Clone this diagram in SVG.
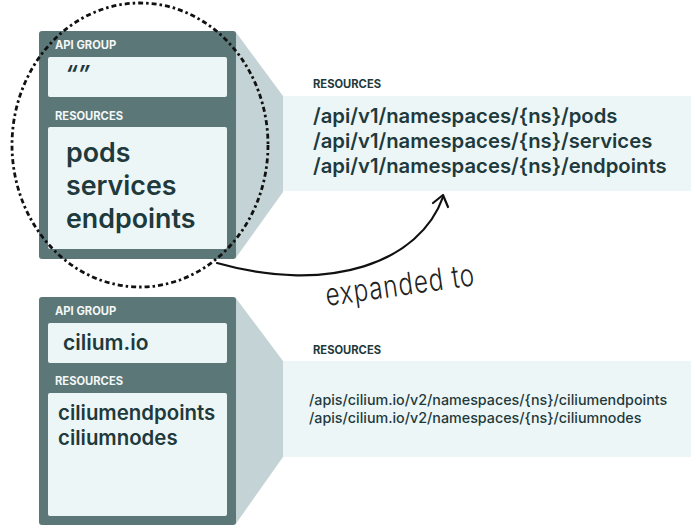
<svg xmlns="http://www.w3.org/2000/svg" width="699" height="529" viewBox="0 0 699 529">
<defs>
<style>
.panel{fill:#5b7778}
.inner{fill:#edf6f7}
.trap{fill:#c4d3d5}
.band{fill:#edf6f7}
.lbl{font-family:Inter,"Liberation Sans",sans-serif;font-weight:700;font-size:11.2px;fill:#f3f7f7}
.lbl2{font-family:Inter,"Liberation Sans",sans-serif;font-weight:700;font-size:11.2px;fill:#1e3a3c}
.big{font-family:Inter,"Liberation Sans",sans-serif;font-weight:600;fill:#1e3a3c}
.path1{font-family:Inter,"Liberation Sans",sans-serif;font-weight:600;font-size:20.3px;fill:#1e3a3c}
.path2{font-family:Inter,"Liberation Sans",sans-serif;font-weight:500;font-size:14.3px;fill:#1e3a3c}
.hand{font-family:Inter,"Liberation Sans",sans-serif;font-weight:300;font-size:31px;fill:#222}
</style>
</defs>
<rect width="699" height="529" fill="#ffffff"/>

<g id="core-group">
<polygon class="trap" points="235,31 283,96 283,192 235,259"/>
<rect class="band" x="283" y="96" width="408" height="95"/>
<rect class="panel" x="39" y="31" width="197" height="228" rx="3"/>
<text class="lbl" x="55" y="49">API GROUP</text>
<rect class="inner" x="48" y="57" width="179" height="40" rx="2"/>
<text class="big" x="65" y="82" font-size="23" font-weight="800" font-style="italic">“”</text>
<text class="lbl" x="55" y="120">RESOURCES</text>
<rect class="inner" x="48" y="127" width="179" height="122" rx="2"/>
<text class="big" x="66" y="162" font-size="26.8">pods</text>
<text class="big" x="66" y="195" font-size="26.8">services</text>
<text class="big" x="66" y="228" font-size="26.8">endpoints</text>
<text class="lbl2" x="313" y="88">RESOURCES</text>
<text class="path1" x="313" y="123">/api/v1/namespaces/{ns}/pods</text>
<text class="path1" x="313" y="148">/api/v1/namespaces/{ns}/services</text>
<text class="path1" x="313" y="173">/api/v1/namespaces/{ns}/endpoints</text>
</g>

<g id="cilium-group">
<polygon class="trap" points="235,297 283,361 283,457 235,525"/>
<rect class="band" x="283" y="361" width="408" height="96"/>
<rect class="panel" x="39" y="297" width="197" height="228" rx="3"/>
<text class="lbl" x="55" y="315">API GROUP</text>
<rect class="inner" x="48" y="323" width="179" height="40" rx="2"/>
<text class="big" x="63" y="350" font-size="21">cilium.io</text>
<text class="lbl" x="55" y="385">RESOURCES</text>
<rect class="inner" x="48" y="393" width="179" height="123" rx="2"/>
<text class="big" x="58" y="420" font-size="20.4">ciliumendpoints</text>
<text class="big" x="58" y="445" font-size="20.4">ciliumnodes</text>
<text class="lbl2" x="313" y="354">RESOURCES</text>
<text class="path2" x="309" y="405">/apis/cilium.io/v2/namespaces/{ns}/ciliumendpoints</text>
<text class="path2" x="309" y="423">/apis/cilium.io/v2/namespaces/{ns}/ciliumnodes</text>
</g>

<g id="connectors">
<ellipse cx="140" cy="145" rx="128" ry="142" fill="none" stroke="#111" stroke-width="2.8" stroke-dasharray="5 3 2.5 3"/>
<path d="M217,263 C330,295 420,262 443,197" fill="none" stroke="#111" stroke-width="2.2" stroke-linecap="round"/>
<path d="M433,203 L443,195 L448,207" fill="none" stroke="#111" stroke-width="2.2" stroke-linecap="round" stroke-linejoin="round"/>
<text class="hand" transform="translate(327 306) rotate(-8) scale(0.78 1)" x="0" y="0" textLength="192" lengthAdjust="spacing">expanded to</text>
</g>
</svg>
